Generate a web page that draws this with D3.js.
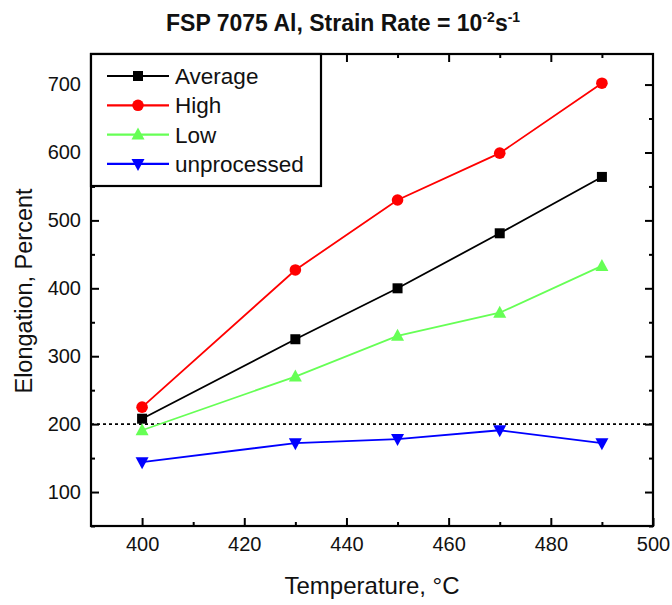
<!DOCTYPE html>
<html>
<head>
<meta charset="utf-8">
<script src="https://cdn.jsdelivr.net/npm/d3@7"></script>
<style>
  html, body { margin: 0; padding: 0; background: #fff; }
  svg { display: block; font-family: "Liberation Sans", Arial, sans-serif; }
</style>
</head>
<body>
<svg id="chart" width="672" height="605"></svg>
<script>
// ---- data ----
const temperatures = [400, 430, 450, 470, 490];
const average      = [208, 325, 400, 481, 564];
const high         = [225, 427, 530, 599, 702];
const low          = [191, 270, 330, 364, 433];
const unprocessed  = [144, 172, 178, 191, 172];
const seriesNames  = ["Average", "High", "Low", "unprocessed"];
const seriesColors = ["#000000", "#ff0000", "#66ff55", "#0000ff"];
const seriesMarkers = ["square", "circle", "triangle", "triangleDown"];
const xTicks = [400, 420, 440, 460, 480, 500];
const xMinorTicks = [410, 430, 450, 470, 490];
const yTicks = [100, 200, 300, 400, 500, 600, 700];
const yMinorTicks = [50, 150, 250, 350, 450, 550, 650];
const referenceLevel = 200;

const allSeries = [average, high, low, unprocessed];

// ---- layout ----
const svg = d3.select("#chart");
const L = 91, R = 653, T = 54, B = 526;
const x = d3.scaleLinear().domain([390, 500]).range([L, R]);
const y = d3.scaleLinear().domain([50, 745]).range([B, T]);

// title
const title = svg.append("text")
  .attr("x", 166).attr("y", 31)
  .attr("font-size", 23).attr("font-weight", "bold")
  .attr("fill", "#111");
title.append("tspan").text("FSP 7075 Al, Strain Rate = 10");
title.append("tspan").attr("dy", -9).attr("font-size", 14).text("-2");
title.append("tspan").attr("dy", 9).text("s");
title.append("tspan").attr("dy", -9).attr("font-size", 14).text("-1");

// reference dotted line
svg.append("line")
  .attr("x1", L).attr("x2", R)
  .attr("y1", y(referenceLevel)).attr("y2", y(referenceLevel))
  .attr("stroke", "#000").attr("stroke-width", 1.8)
  .attr("stroke-dasharray", "3,3");

// axes
function styleAxis(g, showLabels) {
  g.select(".domain").remove();
  g.selectAll(".tick line").attr("stroke", "#000").attr("stroke-width", 2);
  if (!showLabels) g.selectAll(".tick text").remove();
  else g.selectAll(".tick text").attr("font-size", 20).attr("fill", "#111");
}
svg.append("g").attr("transform", `translate(0,${B})`)
  .call(d3.axisBottom(x).tickValues(xTicks).tickSize(-8).tickPadding(11).tickFormat(d3.format("d")))
  .call(g => styleAxis(g, true));
svg.append("g").attr("transform", `translate(0,${B})`)
  .call(d3.axisBottom(x).tickValues(xMinorTicks).tickSize(-4).tickFormat(""))
  .call(g => styleAxis(g, false));
svg.append("g").attr("transform", `translate(0,${T})`)
  .call(d3.axisTop(x).tickValues(xTicks.filter(v => v < 500)).tickSize(-8).tickFormat(""))
  .call(g => styleAxis(g, false));
svg.append("g").attr("transform", `translate(0,${T})`)
  .call(d3.axisTop(x).tickValues(xMinorTicks).tickSize(-4).tickFormat(""))
  .call(g => styleAxis(g, false));
svg.append("g").attr("transform", `translate(${L},0)`)
  .call(d3.axisLeft(y).tickValues(yTicks).tickSize(-8).tickPadding(10).tickFormat(d3.format("d")))
  .call(g => styleAxis(g, true));
svg.append("g").attr("transform", `translate(${L},0)`)
  .call(d3.axisLeft(y).tickValues(yMinorTicks).tickSize(-4).tickFormat(""))
  .call(g => styleAxis(g, false));
svg.append("g").attr("transform", `translate(${R},0)`)
  .call(d3.axisRight(y).tickValues(yTicks).tickSize(-8).tickFormat(""))
  .call(g => styleAxis(g, false));
svg.append("g").attr("transform", `translate(${R},0)`)
  .call(d3.axisRight(y).tickValues(yMinorTicks).tickSize(-4).tickFormat(""))
  .call(g => styleAxis(g, false));

// frame
svg.append("rect")
  .attr("x", L).attr("y", T).attr("width", R - L).attr("height", B - T)
  .attr("fill", "none").attr("stroke", "#000").attr("stroke-width", 2.2);

// axis titles
svg.append("text")
  .attr("x", (L + R) / 2).attr("y", 594)
  .attr("text-anchor", "middle").attr("font-size", 24).attr("fill", "#111")
  .text("Temperature, °C");
svg.append("text")
  .attr("transform", `translate(32,${291}) rotate(-90)`)
  .attr("text-anchor", "middle").attr("font-size", 23.5).attr("fill", "#111")
  .text("Elongation, Percent");

// markers
function drawMarker(g, type, cx, cy, color) {
  if (type === "square") {
    g.append("rect").attr("x", cx - 5).attr("y", cy - 5).attr("width", 10).attr("height", 10).attr("fill", color);
  } else if (type === "circle") {
    g.append("circle").attr("cx", cx).attr("cy", cy).attr("r", 5.8).attr("fill", color);
  } else if (type === "triangle") {
    g.append("path").attr("d", `M${cx},${cy - 7}L${cx + 6.5},${cy + 5}L${cx - 6.5},${cy + 5}Z`).attr("fill", color);
  } else {
    g.append("path").attr("d", `M${cx},${cy + 7}L${cx + 6.5},${cy - 5}L${cx - 6.5},${cy - 5}Z`).attr("fill", color);
  }
}

const line = d3.line().x((d, i) => x(temperatures[i])).y(d => y(d));
allSeries.forEach((vals, si) => {
  const g = svg.append("g");
  g.append("path").datum(vals).attr("d", line)
    .attr("fill", "none").attr("stroke", seriesColors[si]).attr("stroke-width", 1.8);
  vals.forEach((v, i) => drawMarker(g, seriesMarkers[si], x(temperatures[i]), y(v), seriesColors[si]));
});

// legend
const lg = svg.append("g");
lg.append("rect").attr("x", L).attr("y", T).attr("width", 230).attr("height", 132)
  .attr("fill", "#fff").attr("stroke", "#000").attr("stroke-width", 2.2);
seriesNames.forEach((name, i) => {
  const cy = 76 + i * 29.3;
  lg.append("line").attr("x1", 107).attr("x2", 169).attr("y1", cy).attr("y2", cy)
    .attr("stroke", seriesColors[i]).attr("stroke-width", 2.2);
  drawMarker(lg, seriesMarkers[i], 138, cy, seriesColors[i]);
  lg.append("text").attr("x", 175).attr("y", cy + 8)
    .attr("font-size", 22.5).attr("fill", "#111").text(name);
});
</script>
</body>
</html>
